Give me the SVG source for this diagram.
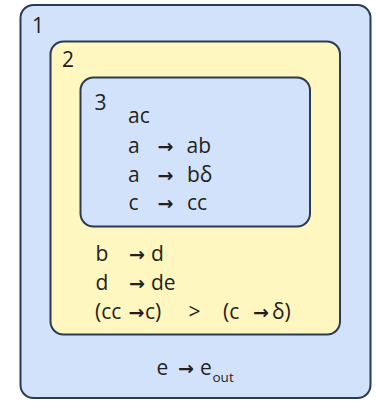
<svg xmlns="http://www.w3.org/2000/svg" width="376" height="401" viewBox="0 0 376 401">
<style>
.box{stroke:#2b3a55;stroke-width:2}
.blue{fill:#d3e2fb}
.yellow{fill:#fff7bf}
text{font-family:"Open Sans","Noto Sans","DejaVu Sans",sans-serif;font-size:21px;fill:#231f20}
.ar{font-family:"DejaVu Sans",sans-serif;font-size:19px;font-weight:bold}
.sub{font-size:13.5px}
</style>
<rect width="376" height="401" fill="#ffffff"/>
<g id="membrane1">
<rect class="box blue" x="20.5" y="5" width="350" height="393" rx="13"/>
<text x="32" y="33">1</text>
<text x="156.5" y="375">e</text>
<text class="ar" x="178" y="375">→</text>
<text x="200" y="375">e</text>
<text class="sub" x="212.5" y="382">out</text>
</g>
<g id="membrane2">
<rect class="box yellow" x="50.5" y="41.5" width="289.5" height="293" rx="13"/>
<text x="62" y="67">2</text>
<text x="95.5" y="260.5">b</text>
<text class="ar" x="129" y="260.5">→</text>
<text x="151" y="260.5">d</text>
<text x="95.5" y="289.5">d</text>
<text class="ar" x="129" y="289.5">→</text>
<text x="151" y="289.5">de</text>
<text x="95" y="318.5">(cc</text>
<text class="ar" x="128.5" y="318.5">→</text>
<text x="145" y="318.5">c)</text>
<text x="188.5" y="318.5">&gt;</text>
<text x="223" y="318.5">(c</text>
<text class="ar" x="253" y="318.5">→</text>
<text x="272" y="318.5">δ)</text>
</g>
<g id="membrane3">
<rect class="box blue" x="80.5" y="77.5" width="229.5" height="149" rx="13"/>
<text x="94.5" y="109.5">3</text>
<text x="128" y="123">ac</text>
<text x="128" y="153">a</text>
<text class="ar" x="157.5" y="153">→</text>
<text x="186.5" y="153">ab</text>
<text x="128" y="181.5">a</text>
<text class="ar" x="157.5" y="181.5">→</text>
<text x="187" y="181.5">bδ</text>
<text x="128.5" y="210">c</text>
<text class="ar" x="157.5" y="210">→</text>
<text x="187" y="210">cc</text>
</g>
</svg>
